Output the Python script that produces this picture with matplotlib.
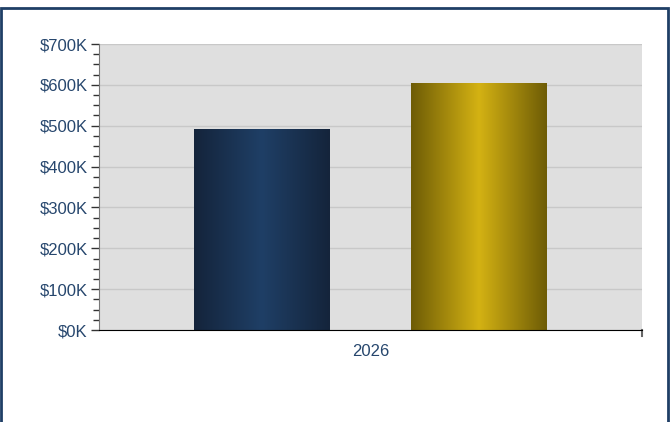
import matplotlib
matplotlib.use("Agg")
import matplotlib.pyplot as plt
import numpy as np
from matplotlib.patches import Rectangle
from matplotlib.ticker import MultipleLocator, FuncFormatter
from matplotlib.colors import LinearSegmentedColormap

categories = ["2026"]
series_a = [492000]
series_b = [605000]
y_ticks = [0, 100000, 200000, 300000, 400000, 500000, 600000, 700000]

plt.rcParams['font.family'] = ['Liberation Sans', 'DejaVu Sans']
W, H = 671, 422
fig = plt.figure(figsize=(W / 100, H / 100), dpi=100)
ax = fig.add_axes([99 / W, 1 - 330 / H, (642 - 99) / W, (330 - 44) / H])

label_color = "#26466d"
ax.set_facecolor("#dfdfdf")
ax.set_xlim(-0.5, 0.5)
ax.set_ylim(0, 700000)

blue_cmap = LinearSegmentedColormap.from_list("b", ["#14243b", "#1f3f66", "#14243b"])
gold_cmap = LinearSegmentedColormap.from_list("g", ["#6e5c06", "#d4b213", "#6e5c06"])
grad = np.linspace(0, 1, 256).reshape(1, -1)

x = np.arange(len(categories))
width = 0.25
for vals, off, cmap in [(series_a, -0.2, blue_cmap), (series_b, 0.2, gold_cmap)]:
    bars = ax.bar(x + off, vals, width=width, color="none", edgecolor="none", zorder=3)
    for b in bars:
        x0, y0 = b.get_x(), b.get_y()
        w, h = b.get_width(), b.get_height()
        im = ax.imshow(grad, cmap=cmap, aspect="auto", extent=[x0, x0 + w, y0, y0 + h],
                       zorder=3, interpolation="bilinear")
        im.set_clip_path(b)

ax.set_yticks(y_ticks)
ax.yaxis.set_minor_locator(MultipleLocator(25000))
ax.yaxis.set_major_formatter(FuncFormatter(lambda v, p: "${:.0f}K".format(v / 1000)))
ax.set_xticks(x)
ax.set_xticklabels(categories)
ax.tick_params(axis="y", which="major", length=6, width=1, color="#333333",
               labelcolor=label_color, labelsize=12, pad=2)
ax.tick_params(axis="y", which="minor", length=4, width=1, color="#333333")
ax.tick_params(axis="x", length=0, labelcolor=label_color, labelsize=12, pad=10)
ax.grid(axis="y", which="major", color="#c8c8c8", linewidth=1, zorder=1)
ax.set_axisbelow(True)

for s in ["top", "right"]:
    ax.spines[s].set_visible(False)
ax.spines["left"].set_color("#777777")
ax.spines["bottom"].set_color("#000000")
ax.spines["left"].set_zorder(4)
ax.spines["bottom"].set_zorder(4)

# small end tick at right of x axis
ax.plot([1, 1], [0, -0.02], transform=ax.transAxes, color="#666666", lw=1.5, clip_on=False)

# figure border
fig.patches.append(Rectangle((1 / W, -0.05), (668 - 1) / W, 1.05 - 8 / H,
                             transform=fig.transFigure, fill=False,
                             edgecolor="#1f3f66", linewidth=2))

fig.savefig("out.png", dpi=100)
